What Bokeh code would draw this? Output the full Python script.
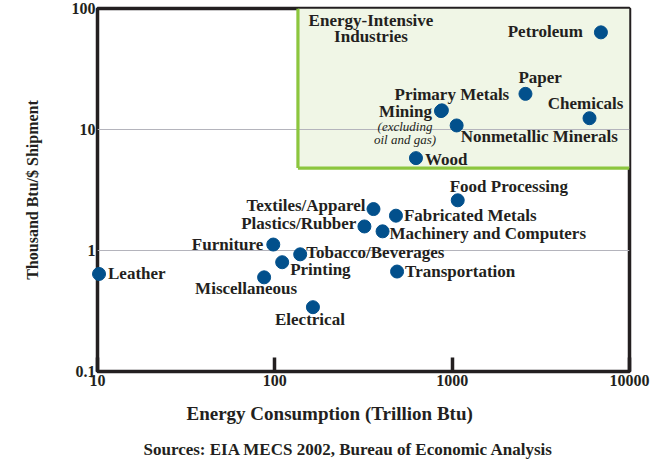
from bokeh.plotting import figure
from bokeh.models import ColumnDataSource, FixedTicker, Range1d, BoxAnnotation, Title
from bokeh.core.properties import value
from bokeh.embed import file_html
from bokeh.resources import INLINE

# ---------------- data ----------------
industries = ["Petroleum", "Paper", "Chemicals", "Primary Metals", "Mining",
              "Nonmetallic Minerals", "Wood", "Food Processing", "Textiles/Apparel",
              "Fabricated Metals", "Plastics/Rubber", "Machinery and Computers",
              "Transportation", "Furniture", "Tobacco/Beverages", "Printing",
              "Miscellaneous", "Electrical", "Leather"]
energy_tbtu = [6900, 2590, 5950, 875, 865, 1060, 625, 1075, 360, 482, 320, 405,
               489, 98, 139, 110, 87, 164, 10.2]
intensity = [63.5, 19.7, 12.4, 14.4, 14.2, 10.8, 5.8, 2.6, 2.2, 1.94, 1.58, 1.44,
             0.67, 1.12, 0.93, 0.80, 0.60, 0.34, 0.64]

x_ticks = [10, 100, 1000, 10000]
x_tick_labels = ["10", "100", "1000", "10000"]
y_ticks = [0.1, 1, 10, 100]
y_tick_labels = ["0.1", "1", "10", "100"]
y_grid_values = [1, 10]

# energy-intensive region (lower-left corner of the shaded box)
ei_min_energy = 135
ei_min_intensity = 4.8

# ---------------- layout / style ----------------
# label placement relative to each point: (dx px, dy px (down), align)
label_layout = {
    "Petroleum": (-18, -1, "right"),
    "Paper": (-7, -16, "left"),
    "Chemicals": (-4, -15, "center"),
    "Primary Metals": (10, -16, "center"),
    "Mining": (-9, 0, "right"),
    "Nonmetallic Minerals": (4, 11, "left"),
    "Wood": (9, 1, "left"),
    "Food Processing": (-8, -14, "left"),
    "Textiles/Apparel": (-8, -4, "right"),
    "Fabricated Metals": (8, 0, "left"),
    "Plastics/Rubber": (-8, -3, "right"),
    "Machinery and Computers": (7, 2, "left"),
    "Transportation": (8, 0, "left"),
    "Furniture": (-10, 0, "right"),
    "Tobacco/Beverages": (6, -2, "left"),
    "Printing": (8, 7, "left"),
    "Miscellaneous": (-18, 11, "center"),
    "Electrical": (-3, 12, "center"),
    "Leather": (9, 0, "left"),
}

DARK = "#231f20"
BLUE = "#02508c"
GREEN = "#8cc63e"
GREEN_FILL = "#f0f6e6"
FONT = value("Liberation Serif")

p = figure(width=660, height=460, x_axis_type="log", y_axis_type="log",
           x_range=Range1d(10, 10000), y_range=Range1d(0.1, 100),
           output_backend="svg", toolbar_location=None,
           min_border_left=97, min_border_right=31, min_border_top=8,
           min_border_bottom=88)
p.outline_line_color = DARK
p.outline_line_width = 3.5
p.background_fill_color = "white"
p.border_fill_color = "white"

# shaded energy-intensive box
box = BoxAnnotation(left=ei_min_energy, bottom=ei_min_intensity,
                    fill_color=GREEN_FILL, fill_alpha=1.0, line_alpha=0,
                    level="image")
p.add_layout(box)

# grids
p.xgrid.visible = False
p.ygrid.ticker = FixedTicker(ticks=y_grid_values)
p.ygrid.grid_line_color = "#b4b4bc"
p.ygrid.grid_line_width = 1.2

# box edges (left and bottom)
p.segment(x0=[ei_min_energy, ei_min_energy], y0=[ei_min_intensity, ei_min_intensity],
          x1=[ei_min_energy, 10000], y1=[100, ei_min_intensity],
          line_color=GREEN, line_width=3.2)

# axes
xa = p.xaxis[0]
xa.ticker = FixedTicker(ticks=x_ticks, minor_ticks=[])
xa.major_label_overrides = dict(zip(x_ticks, x_tick_labels))
xa.axis_line_color = None
xa.major_tick_in = 14
xa.major_tick_out = 0
xa.major_tick_line_width = 3.5
xa.major_tick_line_color = DARK
xa.minor_tick_line_color = None
xa.major_label_standoff = 3
xa.major_label_text_font = "Liberation Serif"
xa.major_label_text_font_style = "bold"
xa.major_label_text_font_size = "16px"
xa.major_label_text_color = DARK

ya = p.yaxis[0]
ya.ticker = FixedTicker(ticks=y_ticks, minor_ticks=[])
ya.major_label_overrides = dict(zip(y_ticks, y_tick_labels))
ya.axis_line_color = None
ya.major_tick_in = 0
ya.major_tick_out = 0
ya.minor_tick_line_color = None
ya.major_label_standoff = 2
ya.major_label_text_font = "Liberation Serif"
ya.major_label_text_font_style = "bold"
ya.major_label_text_font_size = "16px"
ya.major_label_text_color = DARK
ya.axis_label = "Thousand Btu/$ Shipment"
ya.axis_label_text_font = "Liberation Serif"
ya.axis_label_text_font_style = "bold"
ya.axis_label_text_font_size = "16px"
ya.axis_label_text_color = DARK
ya.axis_label_standoff = 28

# titles below
p.add_layout(Title(text="Energy Consumption (Trillion Btu)", align="left", offset=89,
                   text_font="Liberation Serif", text_font_style="bold",
                   text_font_size="19px", text_color=DARK, standoff=25), "below")
p.add_layout(Title(text="Sources: EIA MECS 2002, Bureau of Economic Analysis",
                   align="left", offset=46,
                   text_font="Liberation Serif", text_font_style="bold",
                   text_font_size="17px", text_color=DARK, standoff=3), "below")

# points
pts = ColumnDataSource(dict(x=energy_tbtu, y=intensity, name=industries))
p.scatter("x", "y", source=pts, size=13, fill_color=BLUE, line_color=BLUE,
          level="overlay")

# labels grouped by alignment
for align in ("left", "right", "center"):
    rows = [i for i, n in enumerate(industries) if label_layout[n][2] == align]
    src = ColumnDataSource(dict(
        x=[energy_tbtu[i] for i in rows],
        y=[intensity[i] for i in rows],
        text=[industries[i] for i in rows],
        dx=[label_layout[industries[i]][0] for i in rows],
        dy=[label_layout[industries[i]][1] for i in rows],
    ))
    p.text("x", "y", text="text", x_offset="dx", y_offset="dy", source=src,
           text_align=align, text_baseline="middle", text_font=FONT,
           text_font_style="bold", text_font_size="17px", text_color=DARK,
           level="overlay")

# Mining footnote (italic) under the Mining label
mi = industries.index("Mining")
note_src = ColumnDataSource(dict(x=[energy_tbtu[mi]] * 2, y=[intensity[mi]] * 2,
                                 text=["(excluding", "oil and gas)"],
                                 dx=[-36, -36], dy=[15, 28]))
p.text("x", "y", text="text", x_offset="dx", y_offset="dy", source=note_src,
       text_align="center", text_baseline="middle", text_font=FONT,
       text_font_style="italic", text_font_size="13px", text_color=DARK,
       level="overlay")

# box title
ei_src = ColumnDataSource(dict(x=[ei_min_energy] * 2, y=[100, 100],
                               text=["Energy-Intensive", "Industries"],
                               dx=[73, 73], dy=[11.5, 28]))
p.text("x", "y", text="text", x_offset="dx", y_offset="dy", source=ei_src,
       text_align="center", text_baseline="middle", text_font=FONT,
       text_font_style="bold", text_font_size="17px", text_color=DARK,
       level="overlay")

open("out.html", "w").write(file_html(p, INLINE))
